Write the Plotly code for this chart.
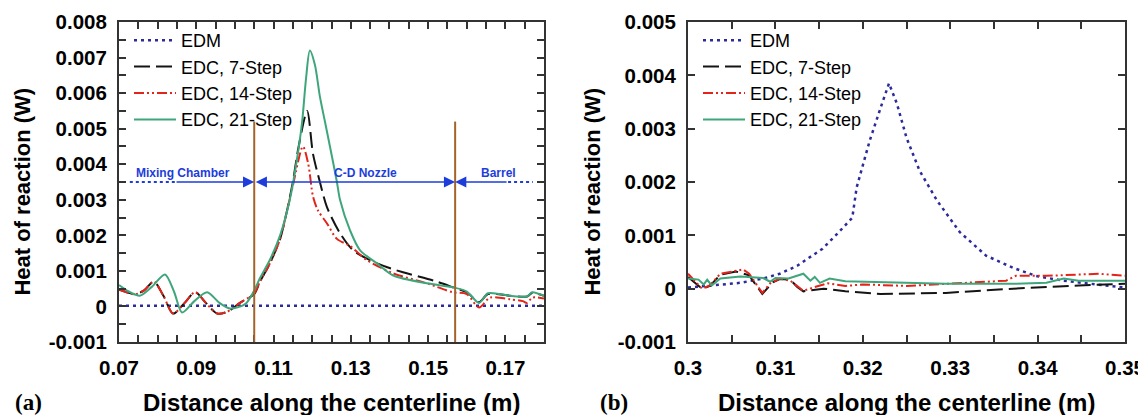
import plotly.graph_objects as go

# ---- Daten (a): 0.07 - 0.18 m ----
edm_a_x = [0.070, 0.090, 0.110, 0.130, 0.150, 0.180]
edm_a_y = [0.00002, 0.00002, 0.00002, 0.00002, 0.00002, 0.00002]

s7_a_x = [0.070, 0.072, 0.0741, 0.0765, 0.079, 0.0815, 0.084, 0.087, 0.0897, 0.0925,
          0.0954, 0.098, 0.1013, 0.105, 0.1065, 0.109, 0.1117, 0.1135, 0.115, 0.1165,
          0.1187, 0.1202, 0.122, 0.1238, 0.1272, 0.1306, 0.1368, 0.1435, 0.1513, 0.1564,
          0.160, 0.1632, 0.1655, 0.1712, 0.1756, 0.1769, 0.180]
s7_a_y = [0.00047, 0.0004, 0.00034, 0.00045, 0.0007, 0.0003, -0.0002, 0.0001, 0.0004, 0.0001,
          -0.0002, -0.00015, 0.0001, 0.00035, 0.0007, 0.0012, 0.0019, 0.0027, 0.0035, 0.0045,
          0.0055, 0.0043, 0.0035, 0.0028, 0.00206, 0.00158, 0.00121, 0.00096, 0.00073, 0.00054,
          0.0004, 0.00012, 0.00035, 0.0003, 0.00028, 0.00038, 0.0003]

s14_a_x = [0.070, 0.072, 0.0741, 0.0765, 0.079, 0.0815, 0.084, 0.087, 0.0897, 0.0925,
           0.0954, 0.098, 0.1013, 0.105, 0.1065, 0.109, 0.1117, 0.1135, 0.115, 0.1176,
           0.1190, 0.1202, 0.1215, 0.1238, 0.1264, 0.1298, 0.1342, 0.141, 0.1497, 0.1564,
           0.160, 0.1632, 0.166, 0.1712, 0.1745, 0.1756, 0.177, 0.180]
s14_a_y = [0.00048, 0.0004, 0.00034, 0.00045, 0.0007, 0.0003, -0.0002, 0.0001, 0.0004, 0.0001,
           -0.0002, -0.00015, 0.0001, 0.00037, 0.0007, 0.0012, 0.0019, 0.0027, 0.0034, 0.0045,
           0.0040, 0.0031, 0.0027, 0.00234, 0.0019, 0.0017, 0.0013, 0.00093, 0.00065, 0.0004,
           0.00035, -0.00003, 0.00025, 0.0002, 0.00015, 0.0001, 0.00025, 0.00022]

s21_a_x = [0.070, 0.0725, 0.0754, 0.0785, 0.0819, 0.0843, 0.0863, 0.0895, 0.0928, 0.096,
           0.0985, 0.1005, 0.103, 0.105, 0.1065, 0.109, 0.1117, 0.1142, 0.116, 0.1174,
           0.1184, 0.1194, 0.1207, 0.122, 0.1233, 0.1246, 0.1264, 0.1272, 0.1298, 0.1324,
           0.1368, 0.141, 0.1497, 0.1564, 0.160, 0.1632, 0.1655, 0.1712, 0.1756, 0.1769, 0.180]
s21_a_y = [0.0006, 0.00042, 0.0003, 0.00055, 0.0009, 0.0004, -0.00017, 0.00015, 0.0004, 0.0001,
           -0.00005, -0.00003, 0.0001, 0.00045, 0.0008, 0.0013, 0.002, 0.003, 0.0041, 0.0052,
           0.0064, 0.0072, 0.0068, 0.0059, 0.0052, 0.0045, 0.0035, 0.003, 0.00214, 0.00158,
           0.00121, 0.00087, 0.00065, 0.00054, 0.00042, 0.0001, 0.00037, 0.0003, 0.00028, 0.0004, 0.0003]

# ---- Daten (b): 0.30 - 0.35 m ----
edm_b_x = [0.300, 0.3025, 0.306, 0.3086, 0.3105, 0.3125, 0.3143, 0.3154, 0.3172, 0.3188,
           0.3193, 0.3208, 0.3222, 0.323, 0.3239, 0.325, 0.3265, 0.3285, 0.3311, 0.3341,
           0.3372, 0.3398, 0.3429, 0.3459, 0.350]
edm_b_y = [0.00002, 0.00006, 0.00011, 0.00019, 0.00028, 0.00043, 0.00062, 0.00075, 0.00105, 0.00133,
           0.0019, 0.00278, 0.00347, 0.00385, 0.00347, 0.00283, 0.00221, 0.00165, 0.00106, 0.00062,
           0.00039, 0.00024, 0.00015, 0.00009, 0.00002]

s7_b_x = [0.300, 0.3016, 0.3025, 0.3037, 0.3055, 0.307, 0.3085, 0.3097, 0.3105, 0.3117,
          0.3125, 0.3132, 0.314, 0.3155, 0.318, 0.322, 0.3295, 0.3372, 0.3447, 0.350]
s7_b_y = [0.00022, 0.0, 0.00005, 0.00026, 0.00032, 0.00025, -0.0001, 0.00012, 0.00018, 0.00017,
          0.00003, -0.00005, -0.00003, 0.0, -0.00005, -0.0001, -0.00008, 0.0, 0.00006, 0.00009]

s14_b_x = [0.300, 0.3016, 0.3025, 0.3037, 0.305, 0.3063, 0.307, 0.3085, 0.3094, 0.3105,
           0.3117, 0.3132, 0.3145, 0.316, 0.318, 0.320, 0.325, 0.3295, 0.3364, 0.3375,
           0.341, 0.347, 0.350]
s14_b_y = [0.00028, 0.0, 0.00006, 0.00028, 0.00032, 0.00036, 0.00028, -0.00008, 0.0001, 0.00019,
           0.00015, -0.00004, 0.00003, 0.0001, 0.00005, 0.00008, 0.00005, 0.00009, 0.00015, 0.00024,
           0.00024, 0.00028, 0.00024]

s21_b_x = [0.300, 0.3012, 0.3018, 0.3022, 0.3027, 0.3037, 0.306, 0.3086, 0.3094, 0.310,
           0.3115, 0.3132, 0.314, 0.3145, 0.3151, 0.3162, 0.318, 0.322, 0.326, 0.3295,
           0.3372, 0.341, 0.343, 0.3447, 0.350]
s21_b_y = [0.00019, 0.00017, 0.00008, 0.00017, 0.00006, 0.00019, 0.00023, 0.0002, 0.00013, 0.0002,
           0.00019, 0.00028, 0.00015, 0.00022, 0.00011, 0.00019, 0.00014, 0.00012, 0.0001, 0.00009,
           0.00009, 0.00011, 0.00019, 0.00015, 0.00015]

# ---- Achsenbeschriftung ----
xa_tickvals = [0.07 + 0.005 * i for i in range(23)]
xa_ticktext = ["0.07", "", "", "", "0.09", "", "", "", "0.11", "", "", "", "0.13", "",
               "", "", "0.15", "", "", "", "0.17", "", ""]
ya_tickvals = [-0.001 + 0.0005 * i for i in range(19)]
ya_ticktext = ["-0.001", "", "0", "", "0.001", "", "0.002", "", "0.003", "", "0.004", "",
               "0.005", "", "0.006", "", "0.007", "", "0.008"]
xb_tickvals = [0.30 + 0.005 * i for i in range(11)]
xb_ticktext = ["0.3", "", "0.31", "", "0.32", "", "0.33", "", "0.34", "", "0.35"]
yb_tickvals = [-0.001, 0.0, 0.001, 0.002, 0.003, 0.004, 0.005]
yb_ticktext = ["-0.001", "0", "0.001", "0.002", "0.003", "0.004", "0.005"]

# Abschnittsgrenzen und Beschriftungen in (a)
grenzen = [0.105, 0.157]
grenze_oben = 0.0052
pfeil_y = 0.0035
abschnitte = ["Mixing Chamber", "C-D Nozzle", "Barrel"]
abschnitt_x = [0.0866, 0.1337, 0.1681]

BLAU_EDM = "#2b2b9c"
ROT = "#e3241b"
GRUEN = "#3fa67c"
SCHWARZ = "#141414"
BRAUN = "#a3642c"
PFEIL = "#1d3ddb"
ACHSE = "#333333"
FONT = "Liberation Sans, Arial, sans-serif"

fig = go.Figure()


def _serie(x, y, name, farbe, dash, xa, ya, legende, shape, breite=2):
    fig.add_trace(go.Scatter(
        x=x, y=y, name=name, mode="lines", xaxis=xa, yaxis=ya, legend=legende,
        line={"color": farbe, "dash": dash, "width": breite, "shape": shape, "smoothing": 0.8},
    ))


_serie(edm_a_x, edm_a_y, "EDM", BLAU_EDM, "3px,4px", "x", "y", "legend", "linear", 2.5)
_serie(s7_a_x, s7_a_y, "EDC, 7-Step", SCHWARZ, "16px,6px", "x", "y", "legend", "spline")
_serie(s14_a_x, s14_a_y, "EDC, 14-Step", ROT, "10px,3px,2px,3px,2px,3px", "x", "y", "legend", "spline")
_serie(s21_a_x, s21_a_y, "EDC, 21-Step", GRUEN, "solid", "x", "y", "legend", "spline")

_serie(edm_b_x, edm_b_y, "EDM", BLAU_EDM, "3px,4px", "x2", "y2", "legend2", "linear", 2.5)
_serie(s7_b_x, s7_b_y, "EDC, 7-Step", SCHWARZ, "16px,6px", "x2", "y2", "legend2", "linear")
_serie(s14_b_x, s14_b_y, "EDC, 14-Step", ROT, "10px,3px,2px,3px,2px,3px", "x2", "y2", "legend2", "linear")
_serie(s21_b_x, s21_b_y, "EDC, 21-Step", GRUEN, "solid", "x2", "y2", "legend2", "linear")

achse = dict(
    showline=True, linecolor=ACHSE, linewidth=2, mirror="ticks",
    ticks="inside", ticklen=7, tickwidth=1.5, tickcolor=ACHSE,
    showgrid=False, zeroline=False, tickmode="array", automargin=False,
    tickfont={"family": FONT, "size": 20.5, "color": "black", "weight": "bold"},
)

# Die Seite hat 8px Rand: Figur entsprechend kleiner, Positionen in Seitenpixeln minus 8
RAND = 8
W, H = 1146 - RAND, 415 - RAND


def px(x_seite):
    return (x_seite - RAND) / W


fig.update_layout(
    width=W, height=H,
    paper_bgcolor="white", plot_bgcolor="white",
    margin=dict(l=0, r=0, t=22 - RAND, b=73, autoexpand=False),
    font={"family": FONT, "color": "black"},
    xaxis=dict(achse, domain=[px(119), px(544)], range=[0.07, 0.18],
               tickvals=xa_tickvals, ticktext=xa_ticktext, anchor="y", ticklabelstandoff=6),
    yaxis=dict(achse, range=[-0.001, 0.008], tickvals=ya_tickvals, ticktext=ya_ticktext,
               anchor="x", ticklabelstandoff=6),
    xaxis2=dict(achse, domain=[px(688), px(1125)], range=[0.30, 0.35],
                tickvals=xb_tickvals, ticktext=xb_ticktext, anchor="y2", ticklabelstandoff=6),
    yaxis2=dict(achse, range=[-0.001, 0.005], tickvals=yb_tickvals, ticktext=yb_ticktext,
                anchor="x2", ticklabelstandoff=6),
    legend=dict(x=px(129), y=1.0, xanchor="left", yanchor="top", bgcolor="rgba(0,0,0,0)",
                font={"size": 18}, itemwidth=42, tracegroupgap=0),
    legend2=dict(x=px(698), y=1.0, xanchor="left", yanchor="top", bgcolor="rgba(0,0,0,0)",
                 font={"size": 18}, itemwidth=42, tracegroupgap=0),
    showlegend=True,
)

# Abschnittsgrenzen
for gx in grenzen:
    fig.add_shape(type="line", xref="x", yref="y", x0=gx, x1=gx, y0=-0.001, y1=grenze_oben,
                  line={"color": BRAUN, "width": 2})

# gepunktete Ausläufer der Pfeile
fig.add_shape(type="line", xref="x", yref="y", x0=0.0728, x1=0.0845, y0=pfeil_y, y1=pfeil_y,
              line={"color": PFEIL, "width": 2, "dash": "dot"})
fig.add_shape(type="line", xref="x", yref="y", x0=0.1707, x1=0.1771, y0=pfeil_y, y1=pfeil_y,
              line={"color": PFEIL, "width": 2, "dash": "dot"})

pfeil = dict(xref="x", yref="y", axref="x", ayref="y", text="", showarrow=True,
             arrowcolor=PFEIL, arrowwidth=1.6, arrowhead=2, arrowsize=1.4,
             standoff=0, startstandoff=0)
fig.add_annotation(pfeil, x=grenzen[0], y=pfeil_y, ax=0.0845, ay=pfeil_y)
fig.add_annotation(pfeil, x=grenzen[1], y=pfeil_y, ax=grenzen[0], ay=pfeil_y,
                   arrowside="end+start", startarrowhead=2, startarrowsize=1.4)
fig.add_annotation(pfeil, x=grenzen[1], y=pfeil_y, ax=0.1707, ay=pfeil_y)

for name, ax_ in zip(abschnitte, abschnitt_x):
    fig.add_annotation(x=ax_, y=pfeil_y, xref="x", yref="y", text=name, showarrow=False,
                       xanchor="center", yanchor="bottom", yshift=0,
                       font={"size": 12, "color": PFEIL, "weight": "bold"})

# Achsentitel und Panelbezeichnungen
titel_font = {"family": FONT, "size": 22, "color": "black", "weight": "bold"}
for xs in [23, 593]:
    fig.add_annotation(x=px(xs), y=0.47, xref="paper", yref="paper", text="Heat of reaction (W)",
                       textangle=-90, showarrow=False, xanchor="center", yanchor="middle",
                       font=titel_font)
for xs in [331, 906]:
    fig.add_annotation(x=px(xs), y=-0.1875, xref="paper", yref="paper",
                       text="Distance along the centerline (m)", showarrow=False,
                       xanchor="center", yanchor="middle", font=dict(titel_font, size=24))
for xs, lab in [(28, "(a)"), (614, "(b)")]:
    fig.add_annotation(x=px(xs), y=-0.1875, xref="paper", yref="paper", text=lab, showarrow=False,
                       xanchor="center", yanchor="middle",
                       font={"family": "Liberation Serif, Times New Roman, serif", "size": 23,
                             "color": "black", "weight": "bold"})

fig.write_html("out.html")
